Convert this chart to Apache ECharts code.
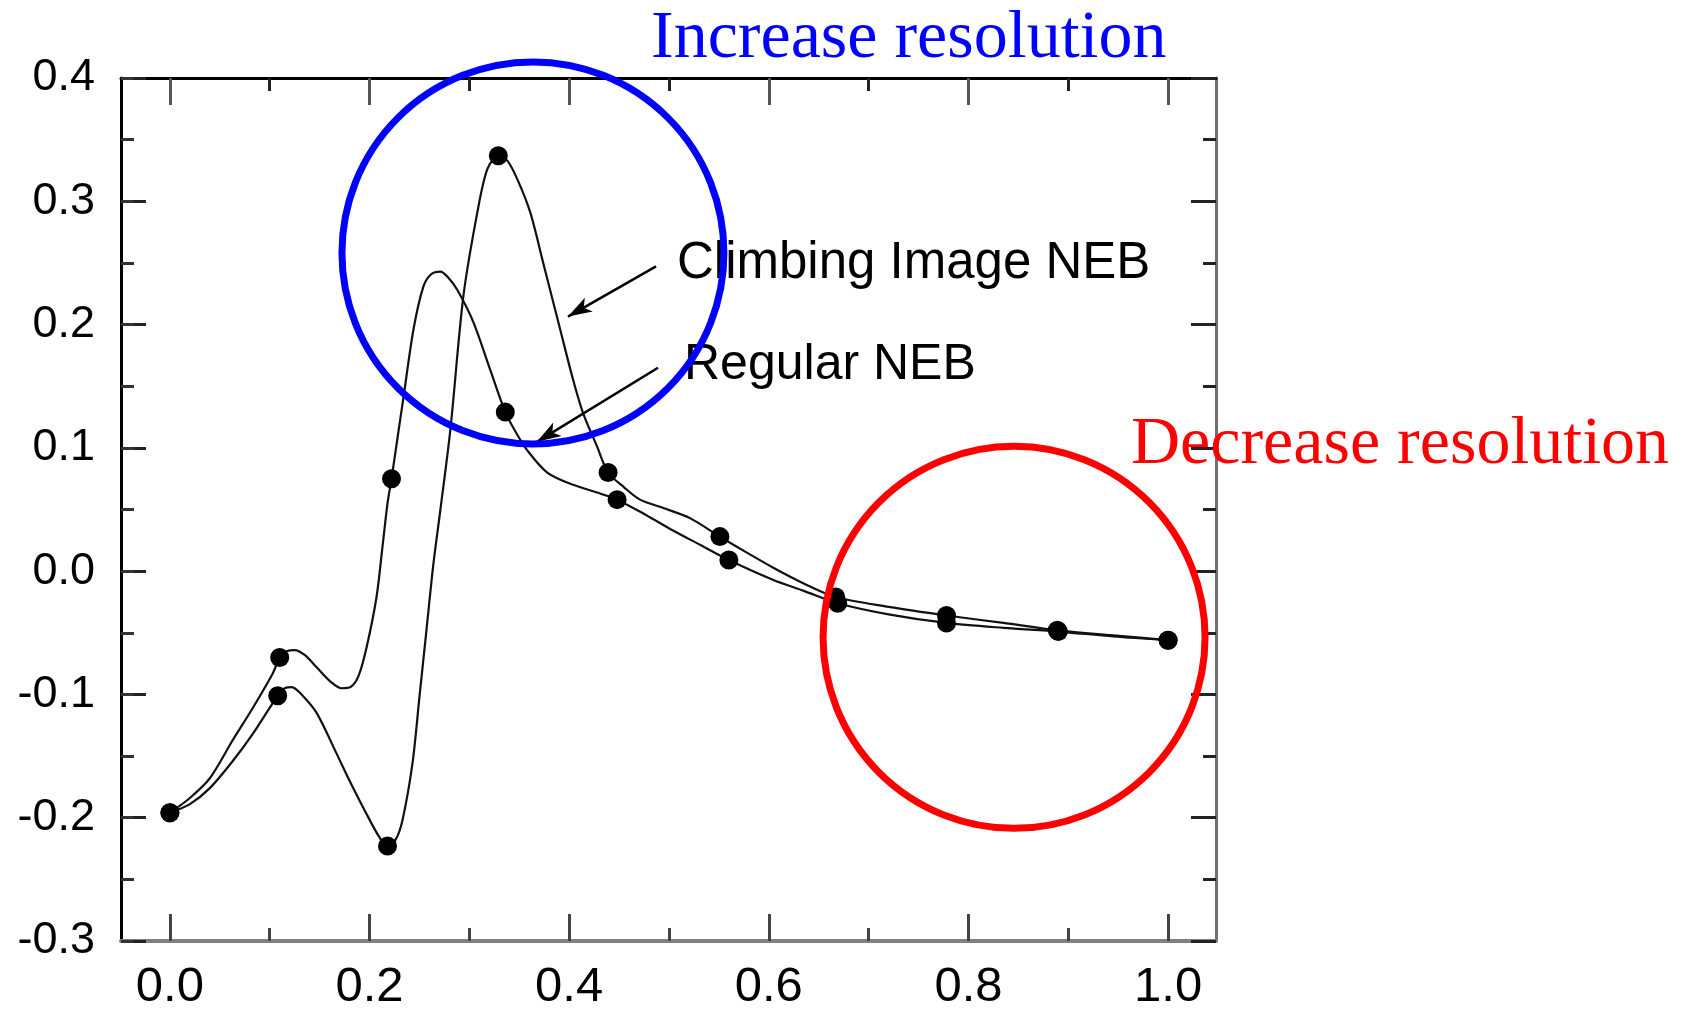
<!DOCTYPE html>
<html><head><meta charset="utf-8">
<script src="https://cdn.jsdelivr.net/npm/echarts@6/dist/echarts.min.js"></script>
<style>html,body{margin:0;padding:0;background:#fff}#c{width:1684px;height:1012px}</style>
</head><body><div id="c"></div>
<script>
// ---- data ----
// image positions (dots)
const ciImageX  = [0, 0.108, 0.218, 0.329, 0.439, 0.551, 0.667, 0.778, 0.889, 1.0];
const ciImageY  = [-0.196, -0.101, -0.223, 0.337, 0.080, 0.028, -0.021, -0.036, -0.048, -0.056];
const regImageX = [0, 0.110, 0.222, 0.336, 0.448, 0.560, 0.669, 0.778, 0.890, 1.0];
const regImageY = [-0.196, -0.070, 0.075, 0.129, 0.058, 0.009, -0.026, -0.042, -0.049, -0.056];
// interpolated energy curves
const ciCurveX  = [0, 0.020, 0.040, 0.063, 0.083, 0.103, 0.108, 0.115, 0.122, 0.133, 0.147, 0.167, 0.180, 0.197, 0.210, 0.218, 0.226, 0.233, 0.243, 0.250, 0.257, 0.264, 0.271, 0.281, 0.294, 0.308, 0.318, 0.329, 0.338, 0.348, 0.361, 0.374, 0.391, 0.404, 0.414, 0.428, 0.439, 0.455, 0.471, 0.495, 0.521, 0.551, 0.578, 0.604, 0.635, 0.667, 0.720, 0.778, 0.835, 0.889, 0.945, 1.0];
const ciCurveY  = [-0.196, -0.189, -0.176, -0.154, -0.132, -0.107, -0.101, -0.095, -0.094, -0.101, -0.115, -0.148, -0.170, -0.197, -0.216, -0.223, -0.218, -0.202, -0.156, -0.102, -0.048, 0.006, 0.050, 0.115, 0.223, 0.291, 0.326, 0.337, 0.333, 0.318, 0.291, 0.250, 0.196, 0.155, 0.128, 0.101, 0.080, 0.068, 0.058, 0.051, 0.043, 0.028, 0.015, 0.003, -0.010, -0.021, -0.029, -0.036, -0.042, -0.048, -0.052, -0.056];
const regCurveX = [0, 0.020, 0.040, 0.063, 0.083, 0.103, 0.110, 0.117, 0.125, 0.135, 0.147, 0.160, 0.172, 0.181, 0.189, 0.197, 0.207, 0.213, 0.218, 0.222, 0.228, 0.234, 0.244, 0.254, 0.262, 0.271, 0.279, 0.288, 0.304, 0.321, 0.336, 0.347, 0.358, 0.378, 0.404, 0.431, 0.448, 0.476, 0.504, 0.532, 0.560, 0.604, 0.635, 0.669, 0.720, 0.778, 0.835, 0.890, 0.945, 1.0];
const regCurveY = [-0.196, -0.184, -0.168, -0.137, -0.111, -0.083, -0.070, -0.065, -0.064, -0.068, -0.078, -0.089, -0.095, -0.094, -0.085, -0.062, -0.021, 0.020, 0.055, 0.075, 0.108, 0.141, 0.196, 0.231, 0.241, 0.243, 0.238, 0.228, 0.202, 0.163, 0.129, 0.112, 0.098, 0.080, 0.070, 0.063, 0.058, 0.046, 0.033, 0.021, 0.009, -0.007, -0.016, -0.026, -0.035, -0.042, -0.046, -0.049, -0.053, -0.056];
// axis ticks / labels
const xMajorTicks = [0, 0.2, 0.4, 0.6, 0.8, 1.0];
const xMinorTicks = [0.1, 0.3, 0.5, 0.7, 0.9];
const yMin = -0.3, yMax = 0.4;
// annotation texts
const ciLabel = 'Climbing Image NEB';
const regLabel = 'Regular NEB';
const titleUp = 'Increase resolution';
const titleDown = 'Decrease resolution';
// annotation anchors in data units
const ciArrow  = [[0.487, 0.2472], [0.3988, 0.2065]];
const regArrow = [[0.489, 0.165], [0.3677, 0.1049]];
const blueCircleCenter = [0.3637, 0.2581];
const redCircleCenter  = [0.8457, -0.0537];

const zip = (a, b) => a.map((v, i) => [v, b[i]]);
const SANS = '"Liberation Sans", Arial, Helvetica, sans-serif';
const SERIF = '"Liberation Serif", "Times New Roman", serif';

const chart = echarts.init(document.getElementById('c'), null, {renderer: 'canvas'});
const xBase = {type: 'value', min: -0.049, max: 1.048, splitLine: {show: false}};
const yBase = {type: 'value', min: yMin, max: yMax, splitLine: {show: false}};
const fmt = v => v.toFixed(1);
const line = (show, color, width) => ({show: show, onZero: false, lineStyle: {color: color || '#000', width: width || 3}});

chart.setOption({
  animation: false,
  backgroundColor: '#fff',
  grid: {left: 121, top: 78, right: 468, bottom: 71, containLabel: false},
  xAxis: [
    Object.assign({}, xBase, {position: 'bottom',
      axisLine: line(true, '#808080', 4),
      axisTick: {inside: true, length: 27, customValues: xMajorTicks, lineStyle: {color: '#444', width: 3}},
      axisLabel: {customValues: xMajorTicks, formatter: fmt, fontSize: 49, fontFamily: SANS, color: '#000', margin: 22}}),
    Object.assign({}, xBase, {position: 'bottom', axisLine: line(false),
      axisTick: {inside: true, length: 13, customValues: xMinorTicks, lineStyle: {color: '#444', width: 3}},
      axisLabel: {show: false}}),
    Object.assign({}, xBase, {position: 'top',
      axisLine: line(true, '#000', 3),
      axisTick: {inside: true, length: 27, customValues: xMajorTicks, lineStyle: {color: '#555', width: 3}},
      axisLabel: {show: false}}),
    Object.assign({}, xBase, {position: 'top', axisLine: line(false),
      axisTick: {inside: true, length: 13, customValues: xMinorTicks, lineStyle: {color: '#222', width: 3}},
      axisLabel: {show: false}})
  ],
  yAxis: [
    Object.assign({}, yBase, {position: 'left', interval: 0.1,
      axisLine: line(true, '#000', 3),
      axisTick: {inside: true, length: 25, lineStyle: {color: '#222', width: 3}},
      axisLabel: {formatter: fmt, fontSize: 45, fontFamily: SANS, color: '#000', margin: 26}}),
    Object.assign({}, yBase, {position: 'left', interval: 0.05, axisLine: line(false),
      axisTick: {inside: true, length: 13, lineStyle: {color: '#333', width: 3}},
      axisLabel: {show: false}}),
    Object.assign({}, yBase, {position: 'right', interval: 0.1,
      axisLine: line(true, '#707070', 3),
      axisTick: {inside: true, length: 25, lineStyle: {color: '#222', width: 3}},
      axisLabel: {show: false}}),
    Object.assign({}, yBase, {position: 'right', interval: 0.05, axisLine: line(false),
      axisTick: {inside: true, length: 13, lineStyle: {color: '#222', width: 3}},
      axisLabel: {show: false}})
  ],
  series: [
    {name: 'Climbing Image NEB curve', type: 'line', data: zip(ciCurveX, ciCurveY), smooth: 0.3,
     showSymbol: false, symbol: 'none', lineStyle: {color: '#111', width: 2.2}, z: 3, silent: true,
     markLine: {silent: true, symbol: ['none', 'arrow'], symbolSize: [12, 24],
       lineStyle: {color: '#000', width: 2.5, type: 'solid'}, label: {show: false},
       data: [[{coord: ciArrow[0]}, {coord: ciArrow[1]}], [{coord: regArrow[0]}, {coord: regArrow[1]}]]}},
    {name: 'Regular NEB curve', type: 'line', data: zip(regCurveX, regCurveY), smooth: 0.3,
     showSymbol: false, symbol: 'none', lineStyle: {color: '#111', width: 2.2}, z: 3, silent: true},
    {name: 'Climbing Image NEB', type: 'scatter', data: zip(ciImageX, ciImageY), symbol: 'circle',
     symbolSize: 19, itemStyle: {color: '#000', opacity: 1}, z: 4},
    {name: 'Regular NEB', type: 'scatter', data: zip(regImageX, regImageY), symbol: 'circle',
     symbolSize: 19, itemStyle: {color: '#000', opacity: 1}, z: 4}
  ]
});

const toPx = p => chart.convertToPixel({xAxisIndex: 0, yAxisIndex: 0}, p);
const bc = toPx(blueCircleCenter), rc = toPx(redCircleCenter);
chart.setOption({
  graphic: [
    {type: 'circle', z: 100, shape: {cx: bc[0], cy: bc[1], r: 191}, style: {fill: null, stroke: '#0000ff', lineWidth: 7}, silent: true},
    {type: 'circle', z: 100, shape: {cx: rc[0], cy: rc[1], r: 191}, style: {fill: null, stroke: '#ff0000', lineWidth: 7}, silent: true},
    {type: 'text', z: 101, style: {x: 651, y: 39, text: titleUp, font: '68px ' + SERIF, fill: '#0000ff', verticalAlign: 'middle', align: 'left'}},
    {type: 'text', z: 101, style: {x: 1131, y: 445, text: titleDown, font: '68px ' + SERIF, fill: '#ff0000', verticalAlign: 'middle', align: 'left'}},
    {type: 'text', z: 50, style: {x: 677, y: 264, text: ciLabel, font: '51px ' + SANS, fill: '#000', verticalAlign: 'middle', align: 'left'}},
    {type: 'text', z: 50, style: {x: 684, y: 365, text: regLabel, font: '50px ' + SANS, fill: '#000', verticalAlign: 'middle', align: 'left'}}
  ]
});
</script>
</body></html>
